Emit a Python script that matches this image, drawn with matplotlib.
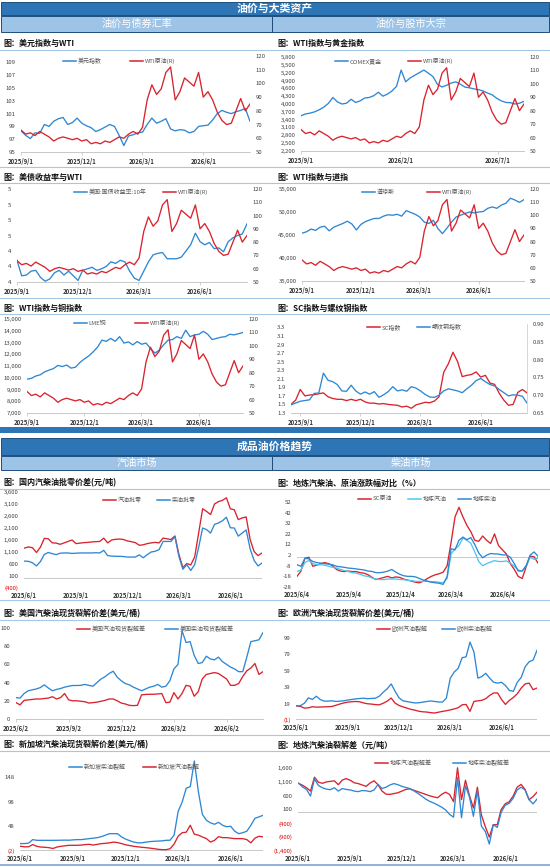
import numpy as np
import pandas as pd
import matplotlib
matplotlib.use("Agg")
import matplotlib.pyplot as plt
from matplotlib.lines import Line2D
from matplotlib.patches import Rectangle

plt.rcParams['font.family'] = ['Noto Sans CJK SC', 'DejaVu Sans']
plt.rcParams['axes.unicode_minus'] = False

# ---------------- 数据 ----------------
d1 = pd.date_range('2025-09-01', periods=50, freq='7D')
d_sc = pd.date_range('2025-08-18', periods=52, freq='7D')

wti = [66, 63, 64, 62, 65, 63, 61, 58, 60, 61,
       60, 59, 60, 58, 59, 56, 57, 56, 58, 57,
       59, 61, 60, 63, 65, 63, 68, 88, 99, 92,
       96, 108, 112, 88, 94, 104, 101, 98, 108, 90,
       94, 88, 79, 73, 70, 71, 80, 89, 80, 85]
usd = [98.3, 97.6, 97.1, 98.0, 97.9, 99.3, 99.0, 99.8, 100.2, 100.4,
       99.3, 99.6, 100.3, 99.5, 99.1, 98.8, 98.2, 98.5, 98.9, 99.3,
       99.0, 97.6, 96.0, 97.5, 97.7, 98.0, 98.1, 99.3, 100.3, 99.5,
       99.8, 100.2, 98.6, 98.3, 98.5, 98.4, 98.0, 98.2, 99.0, 99.1,
       99.2, 100.0, 101.0, 101.5, 101.2, 101.0, 101.3, 101.5, 101.8, 99.8]
gold = [3550, 3620, 3650, 3700, 3780, 3880, 4020, 4250, 4080, 4000,
        4030, 4180, 4060, 4120, 4230, 4250, 4320, 4450, 4300, 4380,
        4500, 4680, 5300, 4850, 5000, 5100, 5200, 5300, 5180, 5050,
        4750, 4650, 4720, 4800, 4850, 4760, 4650, 4620, 4580, 4550,
        4500, 4420, 4350, 4220, 4120, 4060, 4050, 4000, 4030, 4100]
us10y = [4.18, 3.98, 3.99, 4.04, 4.05, 3.96, 3.91, 3.94, 4.02, 4.05,
         3.99, 4.04, 3.98, 3.92, 4.05, 4.07, 4.09, 4.05, 4.07, 4.10,
         4.16, 4.14, 4.18, 4.16, 4.04, 3.95, 3.92, 4.04, 4.16, 4.25,
         4.27, 4.28, 4.20, 4.20, 4.20, 4.22, 4.30, 4.38, 4.53, 4.42,
         4.38, 4.41, 4.33, 4.34, 4.29, 4.42, 4.47, 4.50, 4.52, 4.65]
dow = [45400, 45700, 46300, 46000, 46700, 46900, 45900, 46700, 47100, 47500,
       48000, 47400, 46100, 47300, 47900, 48300, 48600, 48600, 49100, 49400,
       49300, 49500, 49100, 50300, 49900, 49500, 48900, 47800, 47500, 48200,
       46400, 45300, 46500, 47800, 48900, 49300, 49700, 50000, 49800, 50000,
       50100, 50800, 51100, 50800, 51500, 51900, 53000, 52600, 52100, 52700]
copper = [9880, 9950, 10150, 10250, 10500, 10650, 10780, 11050, 10950, 11080,
          10820, 10900, 11300, 11600, 11850, 12200, 12600, 13200, 13100, 13350,
          13100, 13500, 12950, 13050, 12800, 13080, 12850, 12950, 12500, 12100,
          12350, 12800, 13200, 13250, 13500, 13350, 14050, 13500, 13650, 13700,
          13950, 13700, 13250, 13350, 13450, 13500, 13700, 13650, 13750, 13850]
sc_idx = [1.50, 1.60, 1.85, 1.70, 1.72, 1.73, 1.75, 1.77, 1.68, 1.64,
          1.62, 1.62, 1.59, 1.62, 1.59, 1.62, 1.56, 1.53, 1.53, 1.51,
          1.52, 1.50, 1.49, 1.48, 1.44, 1.46, 1.41, 1.49, 1.52, 1.55,
          1.54, 1.58, 1.68, 2.25, 2.45, 2.72, 2.50, 2.15, 2.18, 2.20,
          2.26, 2.14, 2.18, 2.00, 1.97, 1.76, 1.60, 1.48, 1.50, 1.78,
          1.85, 1.77]
rebar = [0.673, 0.678, 0.683, 0.685, 0.687, 0.705, 0.706, 0.762, 0.742, 0.738,
         0.730, 0.712, 0.711, 0.728, 0.712, 0.703, 0.709, 0.703, 0.710, 0.694,
         0.701, 0.710, 0.724, 0.712, 0.715, 0.711, 0.724, 0.720, 0.712, 0.702,
         0.695, 0.694, 0.700, 0.712, 0.718, 0.715, 0.712, 0.707, 0.718, 0.728,
         0.741, 0.747, 0.738, 0.730, 0.726, 0.716, 0.707, 0.698, 0.701, 0.700,
         0.697, 0.678]

d61 = pd.date_range('2025-06-02', periods=61, freq='7D')
d62a = pd.date_range('2025-06-04', periods=62, freq='7D')
d62b = pd.date_range('2025-06-02', periods=62, freq='7D')

gas_spread = [1267, 1310, 1280, 1080, 1300, 1670, 1650, 1480, 1470, 1420,
              1480, 1540, 1600, 1450, 1470, 1490, 1500, 1520, 1530, 1540,
              1680, 1480, 1600, 1630, 1640, 1620, 1560, 1530, 1490, 1380,
              1400, 1450, 1480, 1500, 1480, 1680, 1650, 1620, 1770, 1000,
              450, 620, 560, 900, 1900, 2900, 2790, 2660, 3100, 3200,
              3250, 3360, 2900, 2860, 2450, 2520, 2560, 1620, 1120, 950,
              1060]
die_spread = [720, 710, 650, 520, 700, 1000, 1080, 1030, 990, 1050,
              1060, 1060, 1040, 1050, 1060, 1060, 1060, 1060, 1070, 1060,
              1170, 950, 930, 920, 920, 910, 890, 890, 890, 980,
              860, 990, 1100, 1130, 1200, 1540, 1540, 1540, 1740, 920,
              380, 570, 330, 580, 1300, 2100, 2030, 1890, 2250, 2310,
              2400, 2550, 2110, 2100, 1760, 1890, 2020, 1230, 750, 520,
              640]

sc_chg = [-18, -13, -1, 0, -8.5, -7.5, -6, -5, -6, -8,
          -11.5, -13, -13.5, -13, -13.5, -13.5, -14.5, -15, -16.5, -19,
          -21, -20, -19, -18, -19.5, -18.5, -19, -20.5, -21.5, -22.5,
          -23.5, -24, -22.5, -20, -18, -16.5, -15.5, -14, -8, 14,
          38, 47, 38, 30, 24, 16, 15, 20, 16, 13,
          22, 11, 7, 3, -6, -11.5, -18, -20, -9, 1,
          0.5, -5.5]
gas_chg = [-13.4, -12, -5, -3, -6, -7, -7, -7.5, -8.5, -9.5,
           -10.2, -11.5, -12.5, -13.4, -14.5, -15, -16, -17.5, -18, -19.5,
           -20.5, -21, -21, -20.5, -20.5, -20.5, -21, -21, -21.8, -22,
           -22.7, -22.7, -22.7, -22.7, -23, -23, -23.6, -24, -20, 3,
           8, 11, 18, 16, 13, 5, -4, -8, -6, -4.5,
           -3.2, -4, -4, -3.5, -5.5, -8.5, -12, -13, -8, 0,
           -2, -1]
die_chg = [-7, -8.5, -1, -1.5, -4, -5, -5.6, -6, -6.5, -7.1,
           -8.5, -9, -9.5, -10.2, -10.5, -11, -11.5, -12, -13, -13.4,
           -14.5, -14.5, -14, -13, -11.5, -14, -16, -17.4, -18, -18,
           -18.5, -20, -21.5, -22.5, -23.5, -24, -24.5, -25.5, -18, 8,
           7, 16, 19, 16.5, 18.5, 12, 4, -0.5, 2, 3.5,
           3.2, 3, 2.2, 2.2, 0, -6, -13, -13, -8, 2,
           5, 1]

us_gas = [18, 15.5, 20.5, 21, 21.5, 22, 22, 22.5, 23, 24.5,
          22, 23.5, 28, 21, 20, 20, 19.5, 19, 17.5, 18,
          18.5, 19.5, 20.5, 22, 22, 20, 17.5, 16.5, 15, 14.7,
          15, 26.5, 27, 27.2, 27.2, 27.5, 28, 18, 18.5, 29,
          22, 28, 37, 36, 25, 30, 44, 49, 50, 51,
          50, 47, 44, 37, 37, 39, 46.7, 53, 56, 61,
          49, 52]
us_die = [23.5, 23, 28, 31, 32, 33, 34.5, 37.5, 34, 31,
          32.5, 33.5, 35, 36, 36.8, 36.8, 37, 38, 37, 36,
          40, 44, 46.5, 50, 52.5, 46, 42, 39, 37.5, 35,
          33, 31, 33, 35, 36, 38, 35, 36, 42, 55,
          60, 97, 84, 85, 70, 61, 62, 69, 66, 65,
          68, 63, 60, 57, 55, 52, 52, 68, 85, 86,
          87, 95]

eu_gas = [16.3, 15.5, 13.5, 13.8, 15.2, 14.7, 14.8, 15, 15.2, 15.5,
          17, 18.5, 19.8, 20.8, 21.3, 21.6, 21.2, 19.8, 18.8, 18.4,
          17.8, 17.5, 19.5, 22, 25.8, 19.6, 16.7, 15, 13.5, 12,
          11, 9.7, 9, 8.7, 8, 7.5, 8.5, 9.5, 10.3, 11.3,
          12.5, 14, 17.5, 18, 9.5, 21.6, 22.4, 23, 25, 29,
          32, 32, 24, 18, 23, 26.5, 31, 38, 43, 44,
          36, 38]
eu_die = [16.3, 16.5, 19.5, 26, 24, 28, 24, 22, 22, 22.4,
          21.6, 22, 22.4, 23.4, 24, 24.8, 25.2, 25.6, 25, 25.3,
          25.6, 28, 33, 37, 43, 34, 26, 22.4, 21.5, 20.6,
          19.8, 20, 20.8, 21.5, 22.2, 21.6, 21, 20.8, 25.6, 50,
          57.5, 62, 75, 76, 94, 82, 50, 52, 56, 50,
          45, 44, 45, 41, 35, 34, 45, 51, 64, 70,
          72, 84]

sg_die = [13, 13, 14, 21, 19.6, 19.5, 19.6, 19.5, 19.6, 19.6,
          19.8, 20, 19.8, 20.5, 21, 21, 22, 23, 24, 25,
          27, 30, 33, 33, 33, 26.4, 22, 19, 16, 14.5,
          14.5, 16, 17, 17.6, 18, 18.5, 19.6, 19.8, 30, 78,
          97, 125, 128, 180, 118, 72, 60, 55, 52, 56,
          50, 47, 48, 38, 33, 35, 38, 50, 64, 67,
          70]
sg_gas = [7.5, 6.5, 6.5, 11, 7.5, 6, 5.5, 4.8, 3, 6,
          7.5, 8.5, 9.5, 9.5, 9.5, 10, 11, 11.5, 10, 11.5,
          12.9, 13.5, 14.5, 16, 15, 13, 10.5, 9, 7.5, 6.5,
          5.5, 4.8, 3.8, 2.7, 1.5, 0.7, 0.7, 2.5, 12, 28,
          35, 36, 50, 32, 30, 26.4, 23, 16, 19.6, 27,
          25, 25, 24, 23, 23, 23, 21, 14.5, 24, 27.7,
          26.4]

loc_gas = [1040, 970, 880, 760, 1260, 1080, 1040, 1090, 1110, 1130,
           990, 1156, 1210, 1150, 1060, 1030, 980, 930, 1050, 1130,
           990, 760, 650, 640, 670, 700, 760, 820, 840, 790,
           740, 690, 640, 590, 550, 520, 640, 720, 640, 380,
           1600, 450, 1150, 600, 150, 900, -100, -524, -900, -450,
           -450, 100, 300, 376, 580, 900, 1000, 820, 450, 560,
           720]
loc_die = [1040, 910, 820, 580, 1200, 960, 880, 830, 810, 880,
           760, 850, 820, 800, 760, 740, 780, 770, 740, 800,
           1000, 850, 900, 980, 1030, 990, 930, 890, 850, 770,
           680, 580, 470, 390, 330, 260, 180, 80, -80, -180,
           1250, -200, 950, 550, -150, 780, -500, -700, -1150, -450,
           -550, 0, 250, 320, 500, 800, 900, 800, 450, 300,
           470]

# ---------------- 样式 ----------------
RED = '#d9232e'
BLUE = '#2f87d4'
CYAN = '#4fc6f2'
DBLUE = '#2e75b6'
LBLUE = '#9dc3e6'
RULE = '#a6c6e6'
TXT = '#404040'
LW = 0.95
FS = 4.3

W, H = 550, 867
fig = plt.figure(figsize=(W / 100, H / 100), dpi=100)


def fx(x):
    return x / W


def fy(y):
    return 1 - y / H


def add_ax(x0, y0, x1, y1):
    return fig.add_axes([fx(x0), fy(y1), (x1 - x0) / W, (y1 - y0) / H])


def bar(x0, y0, x1, y1, face, text=None, size=7.5, weight='normal'):
    fig.add_artist(Rectangle((fx(x0), fy(y1)), (x1 - x0) / W, (y1 - y0) / H,
                             transform=fig.transFigure, facecolor=face,
                             edgecolor='#1f4e79', linewidth=0.7))
    if text:
        fig.text(fx((x0 + x1) / 2), fy((y0 + y1) / 2), text, color='white',
                 fontsize=size, weight=weight, ha='center', va='center')


def hline(y, x0=0, x1=W, color=RULE, lw=0.8):
    fig.add_artist(Line2D([fx(x0), fx(x1)], [fy(y), fy(y)],
                          transform=fig.transFigure, color=color, lw=lw))


def title(x, y, s):
    fig.text(fx(x), fy(y), s, fontsize=5.8, weight='bold', color='#111111',
             ha='left', va='center')


def legend(y, items):
    for x, color, label in items:
        fig.add_artist(Line2D([fx(x), fx(x + 13)], [fy(y), fy(y)],
                              transform=fig.transFigure, color=color, lw=1.1))
        fig.text(fx(x + 14.5), fy(y), label, fontsize=FS, color='#595959',
                 ha='left', va='center')


def base(ax, dates, ticks, zero_line=False):
    for s in ax.spines.values():
        s.set_visible(False)
    ax.patch.set_alpha(0)
    ax.set_xlim(dates[0], dates[-1])
    tks = [pd.Timestamp(t) for t in ticks]
    ax.set_xticks(tks)
    ax.set_xticklabels([f'{t.year}/{t.month}/{t.day}' for t in tks],
                       fontsize=FS, weight='bold', color='#333333')
    if zero_line:
        ax.axhline(0, color='#bfbfbf', lw=0.6, zorder=1)
        ax.tick_params(axis='x', length=0, pad=3)
    else:
        ax.spines['bottom'].set_visible(True)
        ax.spines['bottom'].set_color('#bfbfbf')
        ax.spines['bottom'].set_linewidth(0.6)
        ax.tick_params(axis='x', length=2, width=0.5, color='#bfbfbf', pad=2)
    ax.tick_params(axis='y', length=0, labelsize=FS, labelcolor=TXT, pad=4)


def yt(ax, ticks, fmt, red_neg=False):
    ax.set_yticks(ticks)
    ax.set_yticklabels([fmt(t) for t in ticks])
    if red_neg:
        for lab, t in zip(ax.get_yticklabels(), ticks):
            if t < 0:
                lab.set_color('#e00000')


def twin(ax):
    ax2 = ax.twinx()
    for s in ax2.spines.values():
        s.set_visible(False)
    ax2.tick_params(axis='y', length=0, labelsize=FS, labelcolor=TXT, pad=4)
    return ax2


def num(v):
    s = f'{abs(v):,.0f}'
    return f'({s})' if v < 0 else s


def half_up(v):
    return f'{int(np.floor(v + 0.5 + 1e-9))}'


wti_ticks = np.arange(50, 121, 10)

# ---------------- 标题栏 ----------------
bar(1, 2, 549, 15, DBLUE, '油价与大类资产', 7.8, 'bold')
bar(1, 16, 272, 32, LBLUE, '油价与债券汇率', 7.3)
bar(272, 16, 549, 32, LBLUE, '油价与股市大宗', 7.3)

for y in (50, 167, 183, 298, 314):
    hline(y)
fig.add_artist(Rectangle((fx(0), fy(433)), 1, 6 / H, transform=fig.transFigure,
                         facecolor=DBLUE, edgecolor='none'))

bar(1, 438, 549, 455, DBLUE, '成品油价格趋势', 7.8, 'bold')
bar(1, 456, 272, 470, LBLUE, '汽油市场', 7.3)
bar(272, 456, 549, 470, LBLUE, '柴油市场', 7.3)
for y in (489, 600, 620, 735, 751):
    hline(y)
hline(865, color='#7fa7d4', lw=1.2)

# ---------------- 第一部分 ----------------
t_a = ['2025-09-01', '2025-12-01', '2026-03-01', '2026-06-01']

# 美元指数与WTI
title(3, 43, '图：美元指数与WTI')
ax = add_ax(21, 56, 250, 152)
base(ax, d1, t_a)
ax.plot(d1, usd, color=BLUE, lw=LW)
ax.set_ylim(95, 110)
yt(ax, np.arange(95, 110, 2), lambda v: f'{v:.0f}')
ax2 = twin(ax)
ax2.plot(d1, wti, color=RED, lw=LW)
ax2.set_ylim(50, 120)
yt(ax2, wti_ticks, lambda v: f'{v:.0f}')
legend(61, [(63, BLUE, '美元指数'), (130, RED, 'WTI原油(R)')])

# WTI与黄金
title(277, 43, '图：WTI指数与黄金指数')
ax = add_ax(301, 57, 524, 151)
base(ax, d1, ['2025-09-01', '2026-02-01', '2026-07-01'])
ax.plot(d1, gold, color=BLUE, lw=LW)
ax.set_ylim(2200, 5800)
yt(ax, np.arange(2200, 5801, 300), num)
ax2 = twin(ax)
ax2.plot(d1, wti, color=RED, lw=LW)
ax2.set_ylim(50, 120)
yt(ax2, wti_ticks, lambda v: f'{v:.0f}')
legend(61, [(335, BLUE, 'COMEX黄金'), (408, RED, 'WTI原油(R)')])

# 美债收益率与WTI
title(3, 177, '图：美债收益率与WTI')
ax = add_ax(17, 189, 247, 282)
base(ax, d1, t_a)
ax.plot(d1, us10y, color=BLUE, lw=LW)
ax.set_ylim(3.9, 5.1)
yt(ax, np.arange(3.9, 5.11, 0.2), half_up)
ax2 = twin(ax)
ax2.plot(d1, wti, color=RED, lw=LW)
ax2.set_ylim(50, 120)
yt(ax2, wti_ticks, lambda v: f'{v:.0f}')
legend(192, [(74, BLUE, '美国:国债收益率:10年'), (163, RED, 'WTI原油(R)')])

# WTI与道指
title(277, 177, '图：WTI指数与道指')
ax = add_ax(302, 189, 524, 281)
base(ax, d1, t_a)
ax.plot(d1, dow, color=BLUE, lw=LW)
ax.set_ylim(35000, 55000)
yt(ax, np.arange(35000, 55001, 5000), num)
ax2 = twin(ax)
ax2.plot(d1, wti, color=RED, lw=LW)
ax2.set_ylim(50, 120)
yt(ax2, wti_ticks, lambda v: f'{v:.0f}')
legend(192, [(362, BLUE, '道琼斯'), (427, RED, 'WTI原油(R)')])

# WTI与铜
title(3, 308, '图：WTI指数与铜指数')
ax = add_ax(27, 319, 243, 413)
base(ax, d1, t_a)
ax.plot(d1, copper, color=BLUE, lw=LW)
ax.set_ylim(7000, 15000)
yt(ax, np.arange(7000, 15001, 1000), num)
ax2 = twin(ax)
ax2.plot(d1, wti, color=RED, lw=LW)
ax2.set_ylim(50, 120)
yt(ax2, wti_ticks, lambda v: f'{v:.0f}')
legend(323, [(74, BLUE, 'LME铜'), (135, RED, 'WTI原油(R)')])

# SC与螺纹钢
title(277, 308, '图：SC指数与螺纹钢指数')
ax = add_ax(291, 324, 527, 413)
base(ax, d_sc, t_a)
ax.plot(d_sc, sc_idx, color=RED, lw=LW)
ax.set_ylim(1.3, 3.38)
yt(ax, np.arange(1.3, 3.31, 0.2), lambda v: f'{v:.1f}')
ax2 = twin(ax)
ax2.spines['right'].set_visible(True)
ax2.spines['right'].set_color('#d0d0d0')
ax2.spines['right'].set_linewidth(0.6)
ax2.plot(d_sc, rebar, color=BLUE, lw=LW)
ax2.set_ylim(0.65, 0.90)
yt(ax2, np.arange(0.65, 0.901, 0.05), lambda v: f'{v:.2f}')
legend(327, [(367, RED, 'SC指数'), (417, BLUE, '螺纹钢指数')])

# ---------------- 第二部分 ----------------
t_b = ['2025-06-01', '2025-09-01', '2025-12-01', '2026-03-01', '2026-06-01']

# 国内批零价差
title(3, 483, '图：国内汽柴油批零价差(元/吨)')
ax = add_ax(24, 492, 262, 588)
base(ax, d61, t_b, zero_line=True)
ax.plot(d61, gas_spread, color=RED, lw=LW)
ax.plot(d61, die_spread, color=BLUE, lw=LW)
ax.set_ylim(-400, 3600)
yt(ax, np.arange(-400, 3601, 500), num, red_neg=True)
legend(500, [(103, RED, '汽油批零'), (157, BLUE, '柴油批零')])

# 涨跌幅对比
title(277, 483, '图：地炼汽柴油、原油涨跌幅对比（%）')
ax = add_ax(297, 502, 538, 587)
base(ax, d62a, ['2025-06-04', '2025-09-04', '2025-12-04', '2026-03-04', '2026-06-04'],
     zero_line=True)
ax.plot(d62a, sc_chg, color=RED, lw=LW)
ax.plot(d62a, gas_chg, color=CYAN, lw=LW)
ax.plot(d62a, die_chg, color=BLUE, lw=LW)
ax.set_ylim(-28, 52)
yt(ax, np.arange(-28, 53, 10), lambda v: f'{v:.0f}')
legend(499, [(358, RED, 'SC原油'), (408, CYAN, '地炼汽油'), (458, BLUE, '地炼柴油')])

# 美国裂解
title(3, 614, '图：美国汽柴油现货裂解价差(美元/桶)')
ax = add_ax(16, 628, 263, 719)
base(ax, d62b, ['2025-06-02', '2025-09-02', '2025-12-02', '2026-03-02', '2026-06-02'])
ax.plot(d62b, us_gas, color=RED, lw=LW)
ax.plot(d62b, us_die, color=BLUE, lw=LW)
ax.set_ylim(0, 100)
yt(ax, np.arange(0, 101, 20), lambda v: f'{v:.0f}')
legend(629, [(77, RED, '美国汽油现货裂解差'), (165, BLUE, '美国柴油现货裂解差')])

# 欧洲裂解
title(277, 614, '图：欧洲汽柴油现货裂解价差(美元/桶)')
ax = add_ax(296, 638, 537, 720)
base(ax, d62b, t_b, zero_line=True)
ax.plot(d62b, eu_gas, color=RED, lw=LW)
ax.plot(d62b, eu_die, color=BLUE, lw=LW)
ax.set_ylim(-1, 99)
yt(ax, np.arange(-1, 100, 20), num, red_neg=True)
legend(629, [(377, RED, '欧洲汽油裂解'), (442, BLUE, '欧洲柴油裂解')])

# 新加坡裂解
title(3, 745, '图：新加坡汽柴油现货裂解价差(美元/桶)')
ax = add_ax(20, 756, 263, 851)
base(ax, d61, t_b, zero_line=True)
ax.plot(d61, sg_die, color=BLUE, lw=LW)
ax.plot(d61, sg_gas, color=RED, lw=LW)
ax.set_ylim(-2, 190)
yt(ax, np.arange(-2, 149, 50), num, red_neg=True)
legend(767, [(69, BLUE, '新加坡柴油裂解'), (143, RED, '新加坡汽油裂解')])

# 地炼裂解差
title(277, 745, '图：地炼汽柴油裂解差（元/吨）')
ax = add_ax(298, 765, 537, 851)
base(ax, d61, t_b, zero_line=True)
ax.plot(d61, loc_gas, color=RED, lw=LW)
ax.plot(d61, loc_die, color=BLUE, lw=LW)
ax.set_ylim(-1400, 1700)
yt(ax, np.arange(-1400, 1601, 500), num, red_neg=True)
legend(763, [(375, RED, '地炼汽油裂解差'), (453, BLUE, '地炼柴油裂解差')])

fig.savefig('out.png', dpi=100)
